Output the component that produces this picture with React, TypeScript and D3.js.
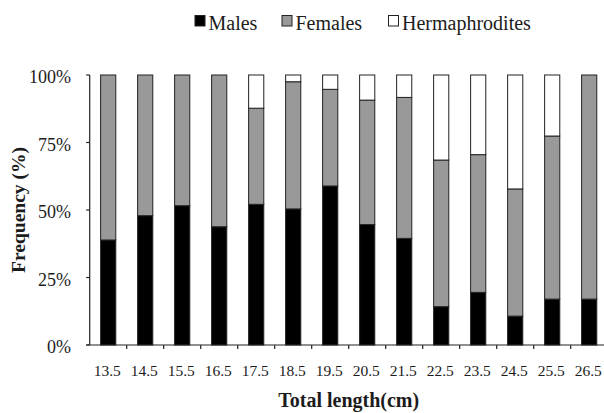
import React from "react";
import * as d3 from "d3";

const categories = ["13.5", "14.5", "15.5", "16.5", "17.5", "18.5", "19.5", "20.5", "21.5", "22.5", "23.5", "24.5", "25.5", "26.5"];
const males = [38.9, 47.9, 51.6, 43.8, 52.1, 50.4, 58.9, 44.6, 39.5, 14.2, 19.5, 10.7, 17.0, 17.0];
const females = [61.1, 52.1, 48.4, 56.2, 35.6, 47.1, 35.8, 46.1, 52.2, 54.3, 51.0, 47.1, 60.4, 83.0];
const hermaphrodites = [0, 0, 0, 0, 12.3, 2.5, 5.3, 9.3, 8.3, 31.5, 29.5, 42.2, 22.6, 0];
const seriesNames = ["Males", "Females", "Hermaphrodites"];
const yTicks = [0, 25, 50, 75, 100];

const colors = ["#000000", "#999999", "#ffffff"];
const FONT = "Liberation Serif";
const INK = "#1c1c1c";

export default function App() {
  const W = 604;
  const H = 413;
  const x = d3.scaleBand<string>().domain(categories).range([89.7, 607.7]).paddingInner(0).paddingOuter(0);
  const y = d3.scaleLinear().domain([0, 100]).range([345, 75]);
  const step = x.step();
  const bw = step * 0.41;

  const rows = categories.map((c, i) => ({
    cat: c,
    Males: males[i],
    Females: females[i],
    Hermaphrodites: hermaphrodites[i],
  }));
  const stack = d3.stack<any>().keys(seriesNames)(rows);

  const x0 = x.range()[0];
  const xEnd = W;
  const ts = { fontFamily: FONT };

  return (
    <svg width={W} height={H} style={{ position: "absolute", left: 0, top: 0 }}>
      <rect width={W} height={H} fill="#fff" />
      {[
        { name: "Males", sx: 195, tx: 208.5 },
        { name: "Females", sx: 282, tx: 295.5 },
        { name: "Hermaphrodites", sx: 388.5, tx: 402 },
      ].map((l, i) => (
        <g key={l.name}>
          <rect x={l.sx} y={15.5} width={10} height={10.5} fill={colors[i]} stroke="#222" strokeWidth={1} />
          <text x={l.tx} y={29.5} fontSize={20} fill={INK} style={ts}>
            {l.name}
          </text>
        </g>
      ))}
      {stack.map((s, si) => (
        <g key={seriesNames[si]}>
          {s.map((d, i) => {
            const h = y(d[0]) - y(d[1]);
            if (h <= 0) return null;
            return (
              <rect
                key={i}
                x={(x(categories[i]) as number) + (step - bw) / 2}
                y={y(d[1])}
                width={bw}
                height={h}
                fill={colors[si]}
                stroke="#222"
                strokeWidth={1}
              />
            );
          })}
        </g>
      ))}
      <line x1={x0} x2={x0} y1={y(100)} y2={y(0)} stroke="#222" strokeWidth={1.2} />
      {yTicks.map((t) => (
        <g key={t}>
          <line x1={x0 - 3.5} x2={x0} y1={y(t)} y2={y(t)} stroke="#222" strokeWidth={1.2} />
          <text x={71} y={y(t) + 8} fontSize={18} textAnchor="end" fill={INK} style={ts}>
            {t}%
          </text>
        </g>
      ))}
      <line x1={x0 - 3.5} x2={xEnd} y1={y(0)} y2={y(0)} stroke="#222" strokeWidth={1.2} />
      {categories.map((c, i) =>
        i === 0 ? null : (
          <line key={c} x1={x(c)} x2={x(c)} y1={y(0)} y2={y(0) + 4} stroke="#222" strokeWidth={1.2} />
        )
      )}
      {categories.map((c) => (
        <text key={c} x={(x(c) as number) + step / 2 - 1} y={376} fontSize={15.5} textAnchor="middle" fill={INK} style={ts}>
          {c}
        </text>
      ))}
      <text x={348.7} y={407} fontSize={20} fontWeight="bold" textAnchor="middle" fill={INK} style={ts}>
        Total length(cm)
      </text>
      <text transform="translate(25,210) rotate(-90)" fontSize={19.5} fontWeight="bold" textAnchor="middle" fill={INK} style={ts}>
        Frequency (%)
      </text>
    </svg>
  );
}
